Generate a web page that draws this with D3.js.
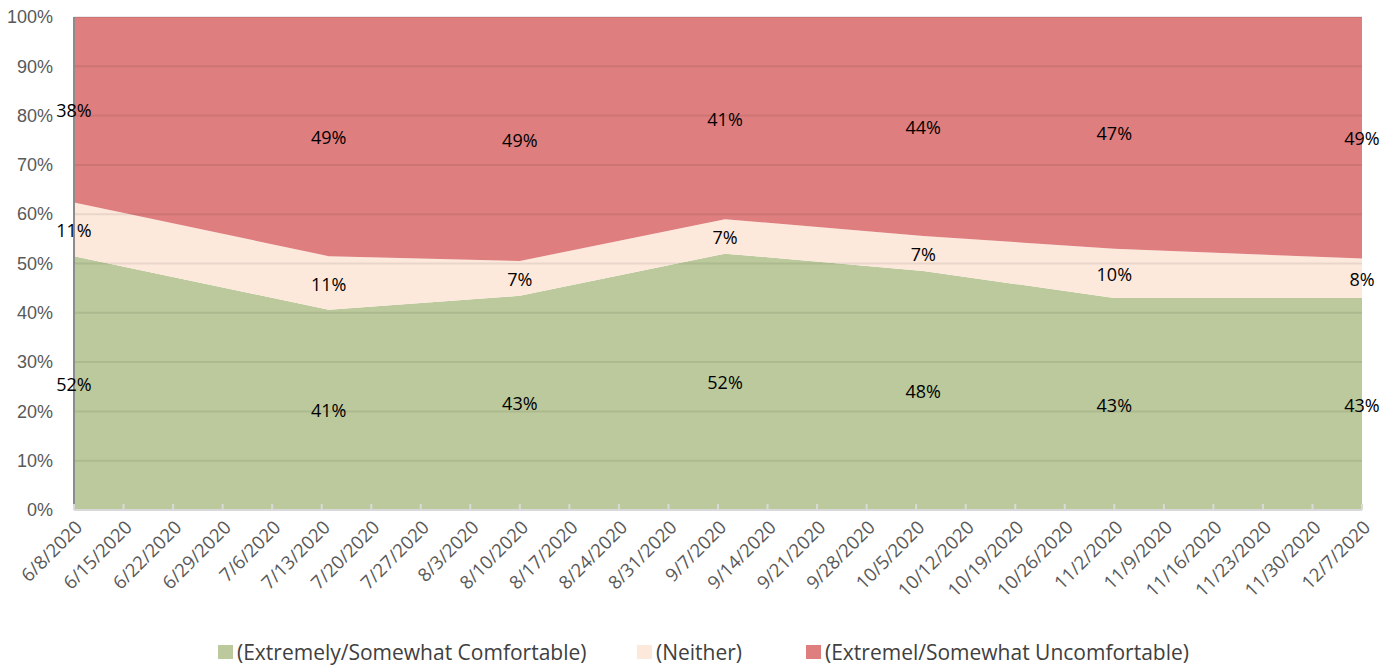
<!DOCTYPE html>
<html>
<head>
<meta charset="utf-8">
<script src="https://cdnjs.cloudflare.com/ajax/libs/d3/7.8.5/d3.min.js"></script>
<style>
  body { margin: 0; background: #fff; }
  svg { display: block; font-family: 'Open Sans', sans-serif; }
</style>
</head>
<body>
<div class="chart"></div>
<script>
'use strict';

// survey dates and answers (percent)
const dates = ['2020-06-08', '2020-07-14', '2020-08-10', '2020-09-08', '2020-10-06', '2020-11-02', '2020-12-07'];
const comfortable = [52, 41, 43, 52, 48, 43, 43];
const neither = [11, 11, 7, 7, 7, 10, 8];
const uncomfortable = [38, 49, 49, 41, 44, 47, 49];
const seriesNames = ['(Extremely/Somewhat Comfortable)', '(Neither)', '(Extremel/Somewhat Uncomfortable)'];
const yTicks = [0, 0.1, 0.2, 0.3, 0.4, 0.5, 0.6, 0.7, 0.8, 0.9, 1];

const colors = ['#bcc99c', '#fde9dc', '#df7e7e'];

const FULL_WIDTH = 1396;
const FULL_HEIGHT = 666;
const margin = { top: 17, right: 34, bottom: 156, left: 74 };
const WIDTH = FULL_WIDTH - margin.left - margin.right;
const HEIGHT = FULL_HEIGHT - margin.top - margin.bottom;

const parse = d3.utcParse('%Y-%m-%d');
const keys = ['c', 'n', 'u'];
const data = dates.map((d, i) => ({
  date: parse(d),
  c: comfortable[i],
  n: neither[i],
  u: uncomfortable[i]
}));

const stacked = d3.stack().keys(keys).offset(d3.stackOffsetExpand)(data);

const x = d3.scaleUtc()
  .domain(d3.extent(data, (d) => d.date))
  .range([0, WIDTH]);

const y = d3.scaleLinear()
  .domain([0, 1])
  .range([HEIGHT, 0]);

const svg = d3.select('.chart')
  .append('svg')
    .attr('width', FULL_WIDTH)
    .attr('height', FULL_HEIGHT);

const g = svg.append('g')
  .attr('transform', 'translate(' + margin.left + ',' + margin.top + ')');

const area = d3.area()
  .x((d) => x(d.data.date))
  .y0((d) => y(d[0]))
  .y1((d) => y(d[1]));

g.selectAll('.area')
  .data(stacked)
  .enter()
  .append('path')
  .attr('class', 'area')
  .attr('d', area)
  .attr('fill', (d, i) => colors[i]);

// grid lines sit on top of the areas
g.selectAll('.grid')
  .data(yTicks.slice(1))
  .enter()
  .append('line')
  .attr('x1', 0)
  .attr('x2', WIDTH)
  .attr('y1', (d) => y(d))
  .attr('y2', (d) => y(d))
  .attr('stroke', '#000')
  .attr('stroke-opacity', 0.08)
  .attr('stroke-width', 2);

// y axis
const yAxis = g.append('g')
  .call(d3.axisLeft(y).tickValues(yTicks).tickFormat(d3.format('.0%')).tickSize(0).tickPadding(21));
yAxis.select('.domain').remove();
yAxis.selectAll('text')
  .attr('fill', '#595959')
  .attr('font-size', '18px');

g.append('line')
  .attr('x1', 0).attr('x2', 0)
  .attr('y1', 0).attr('y2', HEIGHT)
  .attr('stroke', '#8c8c8c')
  .attr('stroke-width', 2);

// x axis
const weeks = d3.utcMonday.range(x.domain()[0], d3.utcDay.offset(x.domain()[1], 1));
const fmt = (d) => (d.getUTCMonth() + 1) + '/' + d.getUTCDate() + '/' + d.getUTCFullYear();

const xAxis = g.append('g')
  .attr('transform', 'translate(0,' + HEIGHT + ')');

xAxis.append('line')
  .attr('x1', 0).attr('x2', WIDTH)
  .attr('stroke', '#d9d9d9')
  .attr('stroke-width', 2);

xAxis.selectAll('.tick')
  .data(weeks)
  .enter()
  .append('line')
  .attr('x1', (d) => x(d)).attr('x2', (d) => x(d))
  .attr('y1', 0).attr('y2', -6)
  .attr('stroke', '#d9d9d9')
  .attr('stroke-width', 2);

xAxis.selectAll('.xlabel')
  .data(weeks)
  .enter()
  .append('text')
  .attr('class', 'xlabel')
  .attr('transform', (d) => 'translate(' + (x(d) + 5) + ',14) rotate(-45)')
  .attr('text-anchor', 'end')
  .attr('dy', '0.35em')
  .attr('fill', '#595959')
  .attr('font-size', '18.5px')
  .text(fmt);

// data labels in the middle of each band
stacked.forEach((layer, i) => {
  const values = [comfortable, neither, uncomfortable][i];
  g.selectAll('.label-' + i)
    .data(layer)
    .enter()
    .append('text')
    .attr('x', (d) => x(d.data.date))
    .attr('y', (d) => y((d[0] + d[1]) / 2))
    .attr('dy', '0.42em')
    .attr('text-anchor', 'middle')
    .attr('font-size', '18px')
    .attr('fill', '#000')
    .text((d, j) => values[j] + '%');
});

// legend
const legendX = [218, 637, 806];
const legend = svg.selectAll('.legend')
  .data(seriesNames)
  .enter()
  .append('g')
  .attr('transform', (d, i) => 'translate(' + legendX[i] + ',645)');

legend.append('rect')
  .attr('width', 15)
  .attr('height', 14)
  .attr('fill', (d, i) => colors[i]);

legend.append('text')
  .attr('x', 19)
  .attr('y', 7)
  .attr('dy', '0.36em')
  .attr('font-size', '21px')
  .attr('fill', '#404040')
  .text((d) => d);
</script>
</body>
</html>
